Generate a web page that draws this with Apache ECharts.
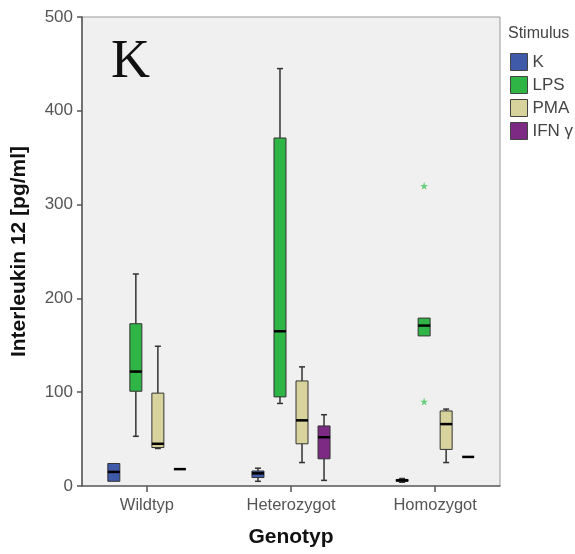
<!DOCTYPE html>
<html>
<head>
<meta charset="utf-8">
<script src="https://cdn.jsdelivr.net/npm/echarts@6/dist/echarts.min.js"></script>
<style>
  html, body { margin: 0; padding: 0; background: #fff; }
  #chart { width: 575px; height: 554px; }
</style>
</head>
<body>
<div id="chart"></div>
<script>
// Genotype groups and stimulus conditions
const categories = ['Wildtyp', 'Heterozygot', 'Homozygot'];
const stimuli = ['K', 'LPS', 'PMA', 'IFN γ'];
const yTicks = [0, 100, 200, 300, 400, 500];

// Box statistics per genotype: [min, Q1, median, Q3, max] in pg/ml
const boxK   = [[5, 5, 15, 24, 24], [5, 9, 13.5, 16, 19], [4, 5, 6, 7, 8]];
const boxLPS = [[53, 101, 122, 173, 226], [88, 95, 165, 371, 445], [160, 160, 171, 179, 179]];
const boxPMA = [[40, 41, 45, 99, 149], [25, 45, 70, 112, 127], [25, 39, 66, 80, 82]];
const boxIFN = [[18, 18, 18, 18, 18], [6, 29, 52, 64, 76], [31, 31, 31, 31, 31]];

// Extreme values (genotype index, value) for LPS
const extremesLPS = [[2, 320], [2, 90]];

const colors = ['#3f5aa9', '#2fb446', '#d8d29c', '#7d2a84'];
const boxSets = [boxK, boxLPS, boxPMA, boxIFN];

// horizontal offset of each stimulus box inside its genotype group (axis units)
const slot = 0.1528;
function offsetOf(s) { return (s - 1.5) * slot; }

function renderBox(params, api) {
  const s = params.seriesIndex;
  const gi = api.value(0);
  const x = gi + offsetOf(s);
  const vMin = api.value(1), q1 = api.value(2), med = api.value(3), q3 = api.value(4), vMax = api.value(5);
  const cx = api.coord([x, 0])[0];
  const yMin = api.coord([x, vMin])[1];
  const yQ1 = api.coord([x, q1])[1];
  const yMed = api.coord([x, med])[1];
  const yQ3 = api.coord([x, q3])[1];
  const yMax = api.coord([x, vMax])[1];
  const hw = 6, cap = 3;
  const line = '#333';
  const children = [];
  if (vMax > q3) {
    children.push({ type: 'line', shape: { x1: cx, y1: yMax, x2: cx, y2: yQ3 }, style: { stroke: line, lineWidth: 1.5 } });
    children.push({ type: 'line', shape: { x1: cx - cap, y1: yMax, x2: cx + cap, y2: yMax }, style: { stroke: line, lineWidth: 1.5 } });
  }
  if (vMin < q1) {
    children.push({ type: 'line', shape: { x1: cx, y1: yQ1, x2: cx, y2: yMin }, style: { stroke: line, lineWidth: 1.5 } });
    children.push({ type: 'line', shape: { x1: cx - cap, y1: yMin, x2: cx + cap, y2: yMin }, style: { stroke: line, lineWidth: 1.5 } });
  }
  if (q3 > q1) {
    children.push({ type: 'rect', shape: { x: cx - hw, y: yQ3, width: hw * 2, height: yQ1 - yQ3 },
      style: { fill: colors[s], stroke: line, lineWidth: 1 } });
  }
  children.push({ type: 'line', shape: { x1: cx - hw, y1: yMed, x2: cx + hw, y2: yMed }, style: { stroke: '#000', lineWidth: 2.5 } });
  return { type: 'group', children: children };
}

const starPath = 'path://M50,0 L61,35 L98,35 L68,57 L79,91 L50,70 L21,91 L32,57 L2,35 L39,35 Z';

const series = boxSets.map(function (set, s) {
  return {
    name: stimuli[s],
    type: 'custom',
    renderItem: renderBox,
    itemStyle: { color: colors[s], borderColor: '#444', borderWidth: 1 },
    encode: { x: 0, y: [1, 2, 3, 4, 5] },
    data: set.map(function (b, i) { return [i].concat(b); }),
    z: 2
  };
});

series.push({
  name: 'LPS',
  type: 'scatter',
  symbol: starPath,
  symbolSize: 8,
  itemStyle: { color: '#45c55e' },
  data: extremesLPS.map(function (p) { return [p[0] + offsetOf(1), p[1]]; }),
  z: 3
});

const chart = echarts.init(document.getElementById('chart'), null, { renderer: 'canvas' });
chart.setOption({
  animation: false,
  backgroundColor: '#ffffff',
  textStyle: { fontFamily: 'Arial, "Liberation Sans", sans-serif' },
  grid: {
    left: 82, right: 75, top: 17, bottom: 68,
    show: true, backgroundColor: '#f0f0f0', borderColor: '#999', borderWidth: 1
  },
  title: {
    text: 'Stimulus', left: 503, top: 21,
    textStyle: { fontSize: 16, fontWeight: 'normal', color: '#444', fontFamily: 'Arial, "Liberation Sans", sans-serif' }
  },
  legend: {
    orient: 'vertical', left: 505, top: 48,
    itemWidth: 17, itemHeight: 17, itemGap: 5,
    icon: 'rect',
    data: stimuli.map(function (n) { return { name: n, icon: 'rect' }; }),
    itemStyle: { borderColor: '#444', borderWidth: 1 },
    textStyle: { fontSize: 17, color: '#444' }
  },
  graphic: [{
    type: 'text', left: 111, top: 36,
    style: { text: 'K', font: '54px "Liberation Serif", "Times New Roman", serif', fill: '#111' }
  }],
  xAxis: {
    type: 'value', min: -0.45, max: 2.45,
    name: 'Genotyp', nameLocation: 'middle', nameGap: 41,
    nameTextStyle: { fontSize: 21, fontWeight: 'bold', color: '#111' },
    axisLine: { show: true, onZero: false, lineStyle: { color: '#666', width: 1.5 } },
    axisTick: { show: true, length: 6, customValues: [0, 1, 2], lineStyle: { color: '#555', width: 1.5 } },
    axisLabel: { customValues: [0, 1, 2], margin: 11, fontSize: 16.5, color: '#555',
      formatter: function (v) { return categories[Math.round(v)]; } },
    splitLine: { show: false }
  },
  yAxis: {
    type: 'value', min: yTicks[0], max: yTicks[yTicks.length - 1], interval: 100,
    name: 'Interleukin 12 [pg/ml]', nameLocation: 'middle', nameGap: 52,
    nameTextStyle: { fontSize: 21, fontWeight: 'bold', color: '#111' },
    axisLine: { show: true, onZero: false, lineStyle: { color: '#555', width: 1.5 } },
    axisTick: { show: true, length: 5, lineStyle: { color: '#555', width: 1.5 } },
    axisLabel: { margin: 9, fontSize: 17, color: '#555' },
    splitLine: { show: false }
  },
  series: series
});
</script>
</body>
</html>
